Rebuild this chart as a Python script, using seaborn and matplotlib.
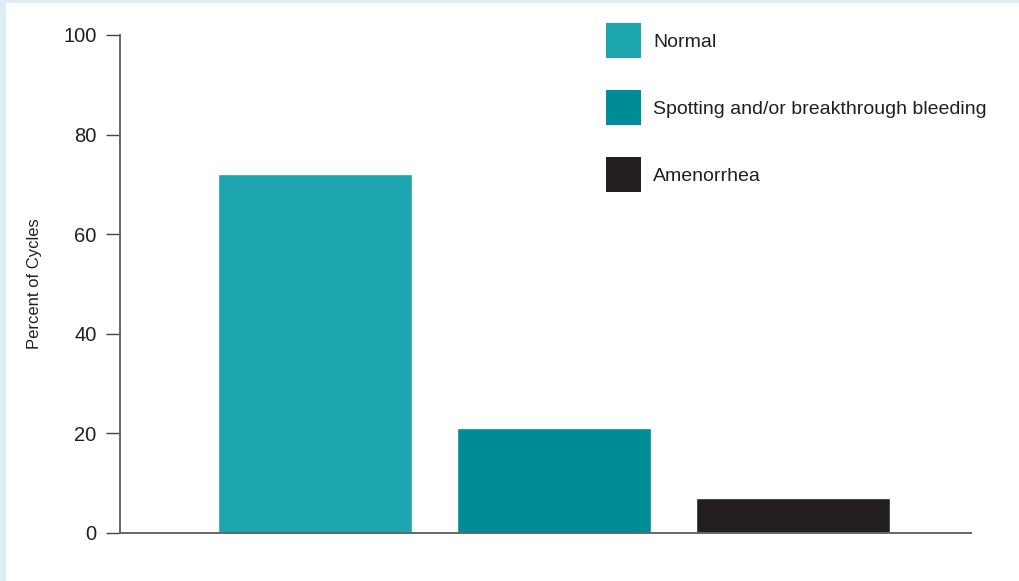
import matplotlib
matplotlib.use("Agg")
import matplotlib.pyplot as plt
from matplotlib.patches import Patch, Rectangle
import seaborn as sns
import pandas as pd

categories = ["Normal", "Spotting and/or breakthrough bleeding", "Amenorrhea"]
percent_of_cycles = [72, 21, 7]
colors = ["#1DA5B0", "#008B98", "#231F20"]
y_ticks = [0, 20, 40, 60, 80, 100]

sns.set_theme(style="white")
plt.rcParams["font.family"] = ["Liberation Sans", "DejaVu Sans"]

df = pd.DataFrame({"category": categories, "percent": percent_of_cycles})

W, H = 1020, 581
fig = plt.figure(figsize=(W / 100, H / 100), dpi=100)
fig.patch.set_facecolor("white")

# pale frame strips along the top and left edges
fig.add_artist(Rectangle((0, 0), 6 / W, 1, transform=fig.transFigure,
                         facecolor="#DCEEF1", edgecolor="none", zorder=0))
fig.add_artist(Rectangle((0, 1 - 3 / H), 1, 3 / H, transform=fig.transFigure,
                         facecolor="#DCEEF1", edgecolor="none", zorder=0))

ax = fig.add_axes([120 / W, (H - 533) / H, 851 / W, (533 - 35) / H])
ax.set_facecolor("none")

sns.barplot(data=df, x="category", y="percent", hue="category",
            palette=colors, order=categories, hue_order=categories,
            width=0.81, dodge=False, legend=False, saturation=1, ax=ax)

ax.set_xlim(-0.816, 2.745)
ax.set_ylim(0, 100)
ax.set_yticks(y_ticks)
ax.set_yticklabels([str(t) for t in y_ticks], fontsize=14.5, color="#231F20")
ax.set_xticks([])
ax.set_xlabel("")
ax.set_ylabel("Percent of Cycles", fontsize=12, color="#231F20", labelpad=15)

for side in ("top", "right"):
    ax.spines[side].set_visible(False)
for side in ("left", "bottom"):
    ax.spines[side].set_color("#666666")
    ax.spines[side].set_linewidth(1.4)
ax.tick_params(axis="y", direction="out", length=10, width=1.0,
               color="#444444", pad=7, left=True)

handles = [Patch(facecolor=c, edgecolor="none", label=l)
           for c, l in zip(colors, categories)]
fig.legend(handles=handles, loc="upper left",
           bbox_to_anchor=(606 / W, 1 - 23 / H), frameon=False,
           fontsize=14, handlelength=1.8, handleheight=2.4,
           labelspacing=1.65, handletextpad=0.62, borderpad=0,
           borderaxespad=0, labelcolor="#231F20")

fig.savefig("out.png", dpi=100, facecolor="white")
